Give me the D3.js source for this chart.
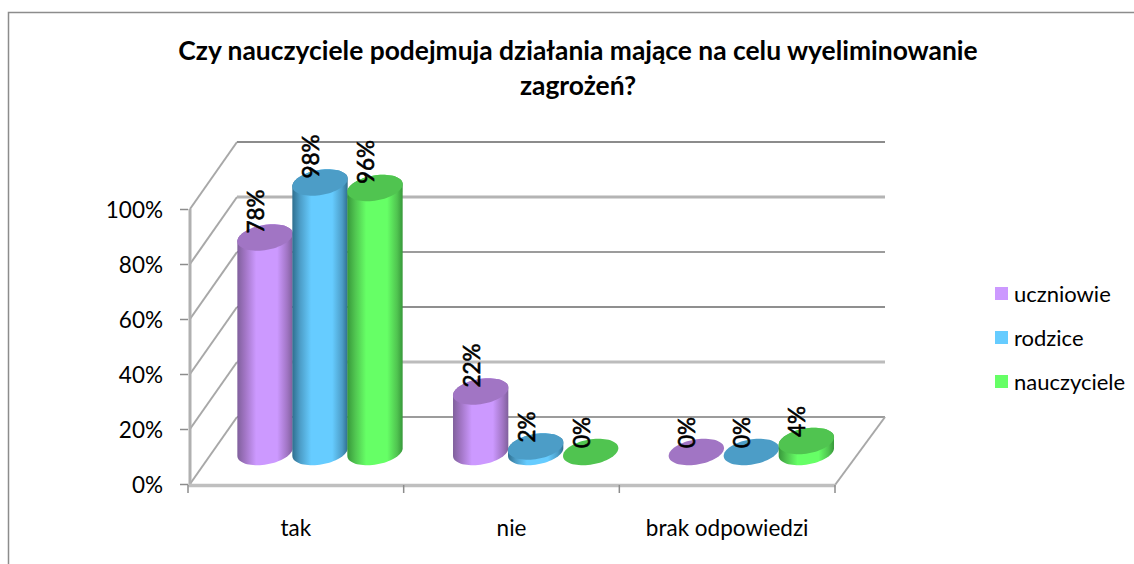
<!DOCTYPE html>
<html>
<head>
<meta charset="utf-8">
<script src="https://cdn.jsdelivr.net/npm/d3@7"></script>
<style>
  html, body { margin: 0; padding: 0; background: #fff; }
  svg { display: block; }
  text { font-family: Lato, "Open Sans", sans-serif; fill: #000; }
</style>
</head>
<body>
<svg id="chart" width="1134" height="564"></svg>
<script>
const titleLines = ["Czy nauczyciele podejmuja działania mające na celu wyeliminowanie", "zagrożeń?"];
const categories = ["tak", "nie", "brak odpowiedzi"];
const seriesNames = ["uczniowie", "rodzice", "nauczyciele"];
const uczniowie = [78, 22, 0];
const rodzice = [98, 2, 0];
const nauczyciele = [96, 0, 4];
const yTicks = [0, 20, 40, 60, 80, 100];

const seriesValues = [uczniowie, rodzice, nauczyciele];
const colors = [
	{ main: "#cc99ff", top: "#a175c4", edge: "#80609c" },
	{ main: "#66ccff", top: "#4c9dc7", edge: "#2f6f8f" },
	{ main: "#66ff66", top: "#50c450", edge: "#37983a" }
];
// the back lines render unevenly in the original
const wallStroke = ["#9c9c9c", "#bcbcbc", "#8f8f8f", "#9c9c9c", "#b4b4b4", "#8c8c8c"];
const wallWidth = [2, 3, 2, 2, 3, 2];

const svg = d3.select("#chart");
const defs = svg.append("defs");

// scales of the front plane
const x = d3.scaleBand().domain(categories).range([188, 835]);
const y = d3.scaleLinear().domain([0, 100]).range([484, 209]);
const depth = { x: 47, y: -67 };
const inner = d3.scaleBand().domain(seriesNames).range([49.5, 214.5]);
const barBaseShift = -32;
const barRx = 28, barRy = 12.5, barTilt = -10 * Math.PI / 180;

// outer frame, only top and left are visible
svg.append("path")
	.attr("d", "M8.5,564V12.5H1134")
	.attr("fill", "none")
	.attr("stroke", "#8c8c8c")
	.attr("stroke-width", 1.5);

svg.append("g").selectAll("text")
	.data(titleLines)
	.enter()
	.append("text")
	.attr("x", 578)
	.attr("y", (d, i) => 60 + i * 35)
	.attr("text-anchor", "middle")
	.attr("font-weight", "bold")
	.style("font-size", "26.4px")
	.text(d => d);

// back wall and side wall
const grid = svg.append("g").attr("fill", "none");
grid.selectAll(".side")
	.data(yTicks)
	.enter()
	.append("path")
	.attr("class", "side")
	.attr("d", d => `M190,${y(d)}L${190 + depth.x},${y(d) + depth.y}`)
	.attr("stroke", "#a8a8a8")
	.attr("stroke-width", 2);

grid.selectAll(".wall")
	.data(yTicks)
	.enter()
	.append("path")
	.attr("class", "wall")
	.attr("d", d => `M${190 + depth.x},${y(d) + depth.y}H885`)
	.attr("stroke", (d, i) => wallStroke[i])
	.attr("stroke-width", (d, i) => wallWidth[i]);

grid.append("path")
	.attr("d", `M835,${y(0) + 1}L885,${y(0) + depth.y}`)
	.attr("stroke", "#a8a8a8")
	.attr("stroke-width", 2);

// axes
const yAxis = d3.axisLeft(y)
	.tickValues(yTicks)
	.tickFormat(d => d + "%")
	.tickSize(8)
	.tickPadding(17);

const yG = svg.append("g")
	.attr("transform", "translate(188,0)")
	.call(yAxis);
yG.select(".domain").remove();
yG.selectAll("line").attr("stroke", "#8c8c8c").attr("stroke-width", 1.5);
yG.selectAll("text").attr("dy", "0.36em").style("font-size", "22.5px");

svg.append("line")
	.attr("x1", 190).attr("x2", 190)
	.attr("y1", y(100)).attr("y2", y(0) + 2)
	.attr("stroke", "#b0b0b0")
	.attr("stroke-width", 3);

const xAxis = d3.axisBottom(x)
	.tickSize(0)
	.tickPadding(35);

const xG = svg.append("g")
	.attr("transform", `translate(0,${y(0) + 1})`)
	.call(xAxis);
xG.select(".domain").attr("stroke", "#bfbfbf").attr("stroke-width", 3.5);
xG.selectAll("text").style("font-size", "22.5px");

// tick marks sit between the categories
xG.selectAll(".sep")
	.data(d3.range(categories.length + 1))
	.enter()
	.append("line")
	.attr("class", "sep")
	.attr("x1", d => x.range()[0] + d * x.bandwidth())
	.attr("x2", d => x.range()[0] + d * x.bandwidth())
	.attr("y1", 0)
	.attr("y2", 8)
	.attr("stroke", "#8c8c8c")
	.attr("stroke-width", 1.5);

// ellipse outline of a cylinder cap, seen tilted
function capPoints(cx, cy) {
	return d3.range(0, 2 * Math.PI, Math.PI / 36).map(t => {
		const ex = barRx * Math.cos(t), ey = barRy * Math.sin(t);
		return [
			cx + ex * Math.cos(barTilt) - ey * Math.sin(barTilt),
			cy + ex * Math.sin(barTilt) + ey * Math.cos(barTilt)
		];
	});
}

const closedLine = d3.line().curve(d3.curveLinearClosed);

colors.forEach((c, i) => {
	const grad = defs.append("linearGradient").attr("id", `side${i}`);
	grad.append("stop").attr("offset", "0%").attr("stop-color", c.edge);
	grad.append("stop").attr("offset", "14%").attr("stop-color", c.top);
	grad.append("stop").attr("offset", "34%").attr("stop-color", c.main);
	grad.append("stop").attr("offset", "72%").attr("stop-color", c.main);
	grad.append("stop").attr("offset", "90%").attr("stop-color", c.top);
	grad.append("stop").attr("offset", "100%").attr("stop-color", c.edge);
});

// one record per bar, painted left to right
const bars = categories.flatMap(cat => seriesNames.map((name, s) => {
	const value = seriesValues[s][categories.indexOf(cat)];
	return {
		cat, name, s, value,
		cx: x(cat) + inner(name) + inner.bandwidth() / 2,
		base: y(0) + barBaseShift,
		top: y(value) + barBaseShift
	};
}));

const barG = svg.append("g").selectAll("g")
	.data(bars)
	.enter()
	.append("g");

barG.filter(d => d.value > 0)
	.append("path")
	.attr("d", d => closedLine(d3.polygonHull(capPoints(d.cx, d.base).concat(capPoints(d.cx, d.top)))))
	.attr("fill", d => `url(#side${d.s})`);

barG.append("path")
	.attr("d", d => closedLine(capPoints(d.cx, d.top)))
	.attr("fill", d => colors[d.s].top);

// value labels are above all bars
svg.append("g").selectAll("text")
	.data(bars)
	.enter()
	.append("text")
	.attr("transform", d => `translate(${d.cx - 1},${d.top - 4}) rotate(-90)`)
	.style("font-size", "22.5px")
	.style("stroke", "#000")
	.style("stroke-width", 0.6)
	.text(d => d.value + "%");

// legend
const legendY = d3.scalePoint().domain(seriesNames).range([294, 382]);
const legend = svg.append("g").selectAll("g")
	.data(seriesNames)
	.enter()
	.append("g")
	.attr("transform", d => `translate(995,${legendY(d)})`);

legend.append("rect")
	.attr("x", 0)
	.attr("y", -7)
	.attr("width", 13)
	.attr("height", 13)
	.attr("fill", (d, i) => colors[i].main);

legend.append("text")
	.attr("x", 19)
	.attr("y", 8)
	.style("font-size", "22px")
	.text(d => d);
</script>
</body>
</html>
